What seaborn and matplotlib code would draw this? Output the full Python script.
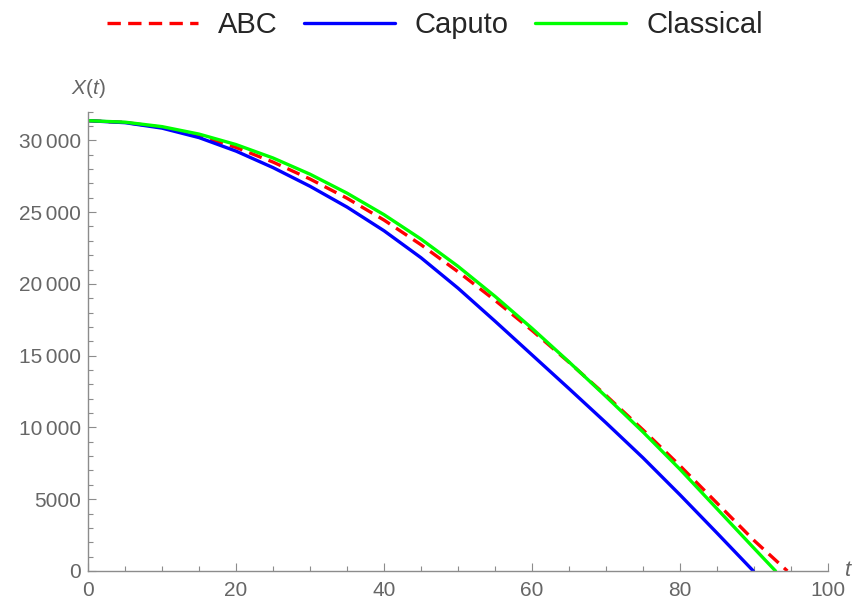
import pandas as pd
import matplotlib
matplotlib.use("Agg")
import matplotlib.pyplot as plt
import seaborn as sns
from matplotlib.ticker import MultipleLocator, FixedLocator

# values
t_abc = [0, 5, 10, 15, 20, 25, 30, 35, 40, 45, 50, 55, 60, 65, 70, 75, 80, 85, 90, 94.5]
x_abc = [31370, 31245, 30905, 30325, 29505, 28485, 27305, 25965, 24445, 22725,
         20845, 18855, 16755, 14535, 12225, 9825, 7325, 4725, 2125, 0]

t_caputo = [0, 5, 10, 15, 20, 25, 30, 35, 40, 45, 50, 55, 60, 65, 70, 75, 80, 85, 89.9]
x_caputo = [31370, 31230, 30850, 30190, 29250, 28100, 26800, 25350, 23700, 21820,
            19700, 17400, 15050, 12700, 10320, 7880, 5300, 2640, 0]

t_classical = [0, 5, 10, 15, 20, 25, 30, 35, 40, 45, 50, 55, 60, 65, 70, 75, 80, 85, 90, 92.9]
x_classical = [31370, 31265, 30955, 30435, 29705, 28770, 27640, 26320, 24820, 23120,
               21220, 19130, 16900, 14560, 12150, 9680, 7080, 4330, 1580, 0]

names = ["ABC", "Caputo", "Classical"]
colors = {"ABC": "#ff0000", "Caputo": "#0000ff", "Classical": "#00ff00"}

y_ticks = [0, 5000, 10000, 15000, 20000, 25000, 30000]
y_ticklabels = ["0", "5000", "10\u2006000", "15\u2006000", "20\u2006000", "25\u2006000", "30\u2006000"]
x_ticks = [0, 20, 40, 60, 80, 100]

df = pd.concat([
    pd.DataFrame({"t": t_abc, "X": x_abc, "model": "ABC"}),
    pd.DataFrame({"t": t_caputo, "X": x_caputo, "model": "Caputo"}),
    pd.DataFrame({"t": t_classical, "X": x_classical, "model": "Classical"}),
], ignore_index=True)

sns.set_style("ticks")
plt.rcParams["font.family"] = ["Liberation Sans", "DejaVu Sans"]
plt.rcParams["mathtext.fontset"] = "custom"
plt.rcParams["mathtext.rm"] = "Liberation Sans"
plt.rcParams["mathtext.it"] = "Liberation Sans:italic"

grey = "#666666"
axis_grey = "#8c8c8c"

fig = plt.figure(figsize=(8.58, 6.08), dpi=100)
ax = fig.add_axes([0.1026, 0.0609, 0.8625, 0.7555])

sns.lineplot(data=df, x="t", y="X", hue="model", style="model",
             hue_order=names, style_order=names, palette=colors,
             dashes={"ABC": (4, 2.2), "Caputo": "", "Classical": ""},
             estimator=None, sort=False, linewidth=2.4, legend=False, ax=ax)

ax.set_xlim(0, 100)
ax.set_ylim(0, 32000)
ax.xaxis.set_major_locator(FixedLocator(x_ticks))
ax.xaxis.set_minor_locator(MultipleLocator(5))
ax.yaxis.set_major_locator(FixedLocator(y_ticks))
ax.set_yticklabels(y_ticklabels)
ax.yaxis.set_minor_locator(MultipleLocator(1000))

sns.despine(ax=ax)
for side in ["left", "bottom"]:
    ax.spines[side].set_color(axis_grey)
    ax.spines[side].set_linewidth(1.0)

ax.tick_params(which="both", direction="in", color=axis_grey, labelcolor=grey,
               labelsize=15, width=0.8)
ax.tick_params(which="major", length=6)
ax.tick_params(which="minor", length=3.5)
ax.tick_params(axis="y", which="major", pad=5)
ax.tick_params(axis="x", which="major", pad=7)

ax.set_xlabel("")
ax.set_ylabel("")
ax.text(0.0, 1.05, "$X(t)$", transform=ax.transAxes, ha="center", va="center",
        fontsize=15, color=grey)
ax.text(1.027, 0.0, "$t$", transform=ax.transAxes, ha="center", va="center",
        fontsize=16, color=grey)

fig.legend(ax.lines[:3], names, loc="center", bbox_to_anchor=(0.507, 0.959),
           ncol=3, frameon=False, fontsize=21, handlelength=3.1,
           handletextpad=0.7, columnspacing=0.9)

fig.savefig("out.png", dpi=100)
